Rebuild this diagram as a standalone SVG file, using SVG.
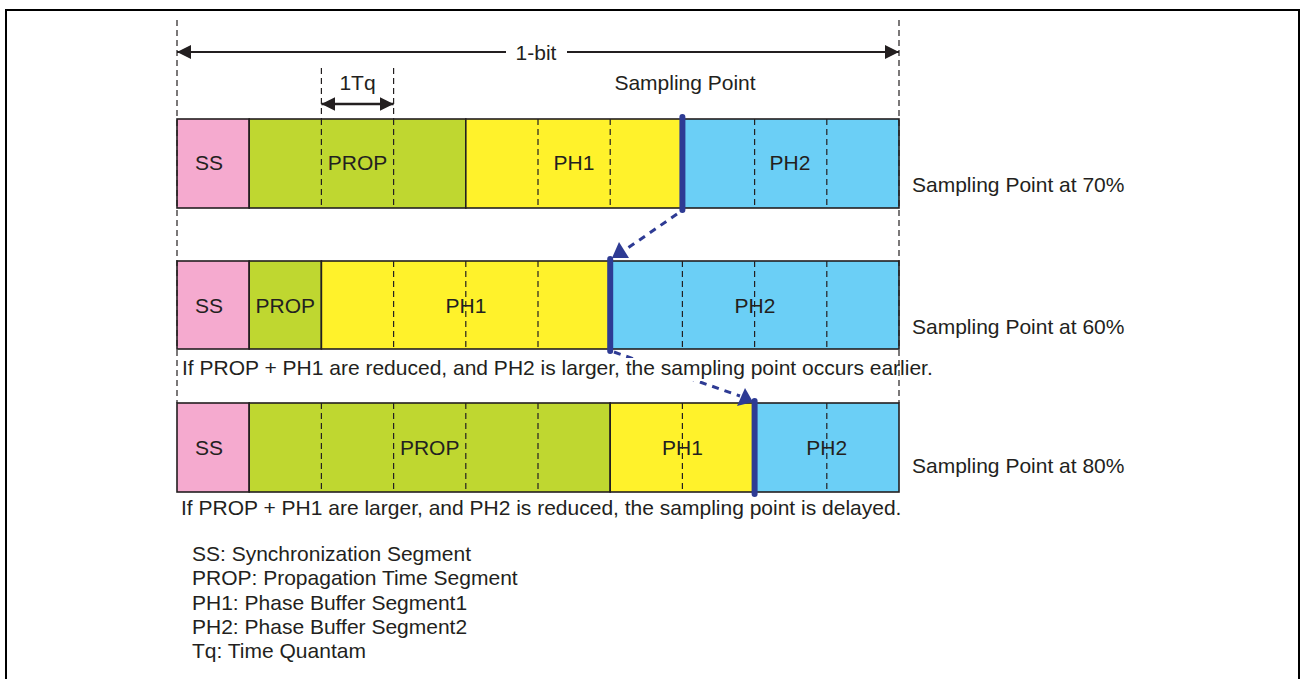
<svg xmlns="http://www.w3.org/2000/svg" width="1300" height="679" viewBox="0 0 1300 679">
<style>
text{font-family:"Liberation Sans",Arial,sans-serif;font-size:21px;fill:#231f20}
.c{text-anchor:middle}
.seg{stroke:#231f20;stroke-width:1.6}
.ss{fill:#F5AACF}.prop{fill:#BFD730}.ph1{fill:#FFF22B}.ph2{fill:#6BCFF6}
.dash{stroke:#231f20;stroke-width:1.2;stroke-dasharray:6,4;fill:none}
.sp{stroke:#2E3B94;stroke-width:6;stroke-linecap:round}
.darr{stroke:#2E3B94;stroke-width:3;stroke-dasharray:7,6;fill:none}
.head{fill:#2E3B94}
</style>
<defs>
<marker id="ah" viewBox="0 0 10 10" refX="10" refY="5" markerWidth="8" markerHeight="8" orient="auto-start-reverse" markerUnits="userSpaceOnUse"><path d="M0,0L10,5L0,10z" fill="#231f20"/></marker>
<marker id="ah2" viewBox="0 0 10 10" refX="10" refY="5" markerWidth="14" markerHeight="16" orient="auto-start-reverse" markerUnits="userSpaceOnUse"><path d="M0,0L10,5L0,10z" fill="#231f20"/></marker>
</defs>
<rect x="0" y="0" width="1300" height="679" fill="#fff"/>
<rect x="6" y="10" width="1293" height="700" fill="none" stroke="#000" stroke-width="2"/>

<g id="row1">
<rect class="seg ss" x="177" y="119" width="72.2" height="89"/>
<rect class="seg prop" x="249.2" y="119" width="216.6" height="89"/>
<rect class="seg ph1" x="465.8" y="119" width="216.6" height="89"/>
<rect class="seg ph2" x="682.4" y="119" width="216.6" height="89"/>
<path class="dash" d="M321.4,119V208M393.6,119V208M538,119V208M610.2,119V208M754.6,119V208M826.8,119V208"/>
<text class="c" x="209" y="170">SS</text>
<text class="c" x="357.5" y="170">PROP</text>
<text class="c" x="574" y="170">PH1</text>
<text class="c" x="790" y="170">PH2</text>
<text x="912" y="192">Sampling Point at 70%</text>
</g>

<g id="row2">
<rect class="seg ss" x="177" y="261" width="72.2" height="88"/>
<rect class="seg prop" x="249.2" y="261" width="72.2" height="88"/>
<rect class="seg ph1" x="321.4" y="261" width="288.8" height="88"/>
<rect class="seg ph2" x="610.2" y="261" width="288.8" height="88"/>
<path class="dash" d="M393.6,261V349M465.8,261V349M538,261V349M682.4,261V349M754.6,261V349M826.8,261V349"/>
<text class="c" x="209" y="313">SS</text>
<text class="c" x="285.3" y="313">PROP</text>
<text class="c" x="466" y="313">PH1</text>
<text class="c" x="755" y="313">PH2</text>
<text x="912" y="334">Sampling Point at 60%</text>
</g>

<g id="row3">
<rect class="seg ss" x="177" y="403" width="72.2" height="89"/>
<rect class="seg prop" x="249.2" y="403" width="361" height="89"/>
<rect class="seg ph1" x="610.2" y="403" width="144.4" height="89"/>
<rect class="seg ph2" x="754.6" y="403" width="144.4" height="89"/>
<path class="dash" d="M321.4,403V492M393.6,403V492M465.8,403V492M538,403V492M682.4,403V492M826.8,403V492"/>
<text class="c" x="209" y="455">SS</text>
<text class="c" x="429.7" y="455">PROP</text>
<text class="c" x="682.4" y="455">PH1</text>
<text class="c" x="826.8" y="455">PH2</text>
<text x="912" y="473">Sampling Point at 80%</text>
</g>

<g id="connectors">
<line class="sp" x1="682.4" y1="117" x2="682.4" y2="210"/>
<line class="sp" x1="610.2" y1="259" x2="610.2" y2="351"/>
<line class="sp" x1="754.6" y1="401" x2="754.6" y2="494"/>
<line class="darr" x1="677" y1="214" x2="625" y2="250"/>
<polygon class="head" points="612,258 629,258 619,242"/>
<line class="darr" x1="614" y1="352" x2="740" y2="396"/>
<polygon class="head" points="737,406 753,402 745,388"/>
<line x1="177" y1="52" x2="506" y2="52" stroke="#231f20" stroke-width="2" marker-start="url(#ah2)"/>
<line x1="567" y1="52" x2="899" y2="52" stroke="#231f20" stroke-width="2" marker-end="url(#ah2)"/>
<line x1="321.4" y1="104" x2="393.6" y2="104" stroke="#231f20" stroke-width="2.5" marker-start="url(#ah2)" marker-end="url(#ah2)"/>
</g>

<g id="notes">
<rect x="181" y="358" width="766" height="23" fill="#fff"/>
<text x="182" y="375">If PROP + PH1 are reduced, and PH2 is larger, the sampling point occurs earlier.</text>
<text x="181" y="515">If PROP + PH1 are larger, and PH2 is reduced, the sampling point is delayed.</text>
<text class="c" x="536" y="60">1-bit</text>
<text class="c" x="357.5" y="90">1Tq</text>
<text class="c" x="685" y="90">Sampling Point</text>
</g>

<g id="guides">
<path class="dash" d="M177,20V403M899,20V403M321.4,68V119M393.6,68V119"/>
</g>

<g id="legend">
<text x="192" y="561">SS: Synchronization Segment</text>
<text x="192" y="585">PROP: Propagation Time Segment</text>
<text x="192" y="610">PH1: Phase Buffer Segment1</text>
<text x="192" y="634">PH2: Phase Buffer Segment2</text>
<text x="192" y="658">Tq: Time Quantam</text>
</g>
</svg>
